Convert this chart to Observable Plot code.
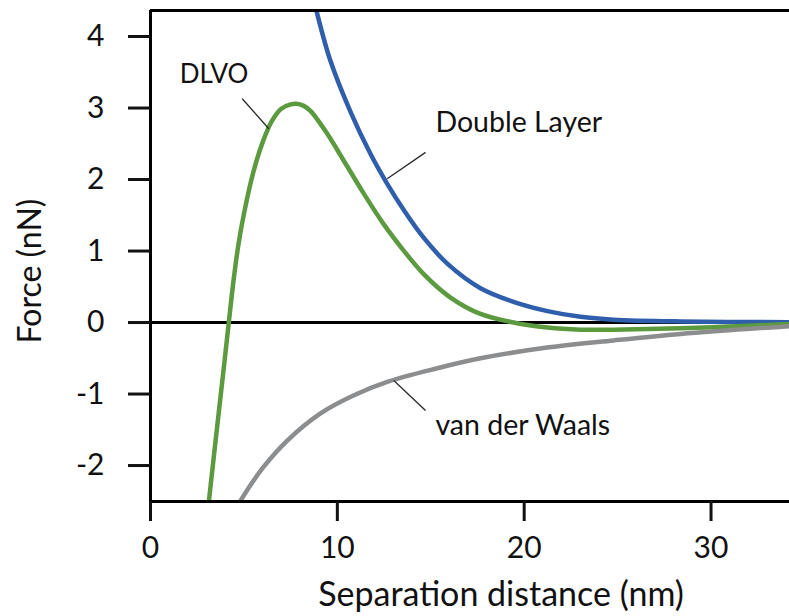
<!DOCTYPE html>
<html>
<head>
<meta charset="utf-8">
<script src="https://cdn.jsdelivr.net/npm/d3@7"></script>
<script src="https://cdn.jsdelivr.net/npm/@observablehq/plot@0.6"></script>
<style>
  body { margin: 0; background: #fff; }
  #chart svg { display: block; }
</style>
</head>
<body>
<div id="chart"></div>
<script>
// Force–distance curves (nN vs nm) for two approaching surfaces.
const doubleLayerX = [8.72, 8.92, 9.63, 10.70, 11.77, 12.67, 13.54, 14.61, 15.90, 17.66, 19.43, 21.25, 23.01, 24.78, 28.37, 34.2];
const doubleLayerY = [4.54, 4.32, 3.66, 2.95, 2.36, 1.94, 1.58, 1.19, 0.82, 0.48, 0.29, 0.16, 0.08, 0.04, 0.015, 0.005];

const dlvoX = [3.07, 3.40, 3.70, 3.95, 4.19, 4.45, 4.70, 5.0, 5.5, 6.0, 6.5, 7.0, 7.5, 7.8, 8.2, 8.56, 9.46, 10.33, 11.40, 12.47, 13.54, 14.61, 16.0, 17.66, 19.43, 21.25, 23.01, 24.78, 28.37, 30.13, 34.2];
const dlvoY = [-2.63, -1.85, -1.15, -0.57, 0.0, 0.60, 1.08, 1.52, 2.10, 2.52, 2.82, 2.99, 3.05, 3.06, 3.03, 2.96, 2.64, 2.27, 1.81, 1.38, 1.01, 0.68, 0.36, 0.12, 0.0, -0.07, -0.10, -0.10, -0.08, -0.065, -0.02];

const vdwX = [4.52, 4.82, 6.05, 7.32, 9.10, 10.86, 12.67, 15.34, 17.66, 21.23, 24.78, 28.37, 34.2];
const vdwY = [-2.63, -2.49, -2.02, -1.65, -1.27, -1.02, -0.83, -0.64, -0.50, -0.35, -0.25, -0.16, -0.05];

const xTicks = [0, 10, 20, 30];
const yTicks = [-2, -1, 0, 1, 2, 3, 4];

// Curve labels and their leader lines (data units)
const labelText = ["DLVO", "Double Layer", "van der Waals"];
const labelX = [3.40, 15.25, 15.25];
const labelY = [3.47, 2.79, -1.45];
const leaderX1 = [4.91, 14.72, 14.72];
const leaderY1 = [3.13, 2.38, -1.23];
const leaderX2 = [6.33, 12.67, 13.02];
const leaderY2 = [2.71, 2.01, -0.81];

const xDomain = [0, 34.2];
const yDomain = [-2.503, 4.364];

const toRows = (name, xs, ys) => xs.map((x, i) => ({series: name, x, y: ys[i]}));
const curves = [
  {rows: toRows("Double Layer", doubleLayerX, doubleLayerY), color: "#2f5fac"},
  {rows: toRows("DLVO", dlvoX, dlvoY), color: "#5b9a3e"},
  {rows: toRows("van der Waals", vdwX, vdwY), color: "#8b8d8f"}
];

const labels = labelText.map((t, i) => ({
  text: t, x: labelX[i], y: labelY[i],
  x1: leaderX1[i], y1: leaderY1[i], x2: leaderX2[i], y2: leaderY2[i]
}));

const font = "Lato, 'Open Sans', sans-serif";

const chart = Plot.plot({
  width: 789,
  height: 616,
  marginLeft: 150,
  marginRight: 0,
  marginTop: 10,
  marginBottom: 115,
  style: {fontFamily: font, color: "#111", background: "#fff", overflow: "visible"},
  x: {domain: xDomain},
  y: {domain: yDomain},
  marks: [
    // zero line under the curves
    Plot.ruleY([0], {stroke: "#000", strokeWidth: 3}),
    ...curves.map(c => Plot.line(c.rows, {
      x: "x", y: "y", stroke: c.color, strokeWidth: 4.5,
      curve: "catmull-rom", clip: true, strokeLinecap: "round"
    })),
    // leader lines
    Plot.link(labels, {x1: "x1", y1: "y1", x2: "x2", y2: "y2", stroke: "#2a2a2a", strokeWidth: 1.3}),
    Plot.text(labels.slice(0, 1), {x: "x", y: "y", text: "text", textAnchor: "middle", fontSize: 26, fill: "#111"}),
    Plot.text(labels.slice(1), {x: "x", y: "y", text: "text", textAnchor: "start", fontSize: 28.5, fill: "#111"}),
    // frame: top, bottom and left edges
    Plot.ruleY([yDomain[0], yDomain[1]], {stroke: "#000", strokeWidth: 3}),
    Plot.ruleX([0], {y1: yDomain[0], y2: yDomain[1], stroke: "#000", strokeWidth: 3}),
    Plot.axisX(xTicks, {
      tickSize: 20, tickPadding: 15, strokeWidth: 3, fontSize: 30,
      tickFormat: d => String(d), label: null
    }),
    Plot.axisY(yTicks, {
      tickSize: 22, tickPadding: 24, strokeWidth: 3, fontSize: 30,
      tickFormat: d => String(d), label: null
    }),
    Plot.text(["Separation distance (nm)"], {
      frameAnchor: "bottom", lineAnchor: "bottom", dx: 31, dy: 104, fontSize: 34, fill: "#111"
    }),
    Plot.text(["Force (nN)"], {
      frameAnchor: "left", textAnchor: "middle", rotate: -90, dx: -120, dy: 15, fontSize: 32, fill: "#111"
    })
  ]
});

document.getElementById("chart").append(chart);
</script>
</body>
</html>
